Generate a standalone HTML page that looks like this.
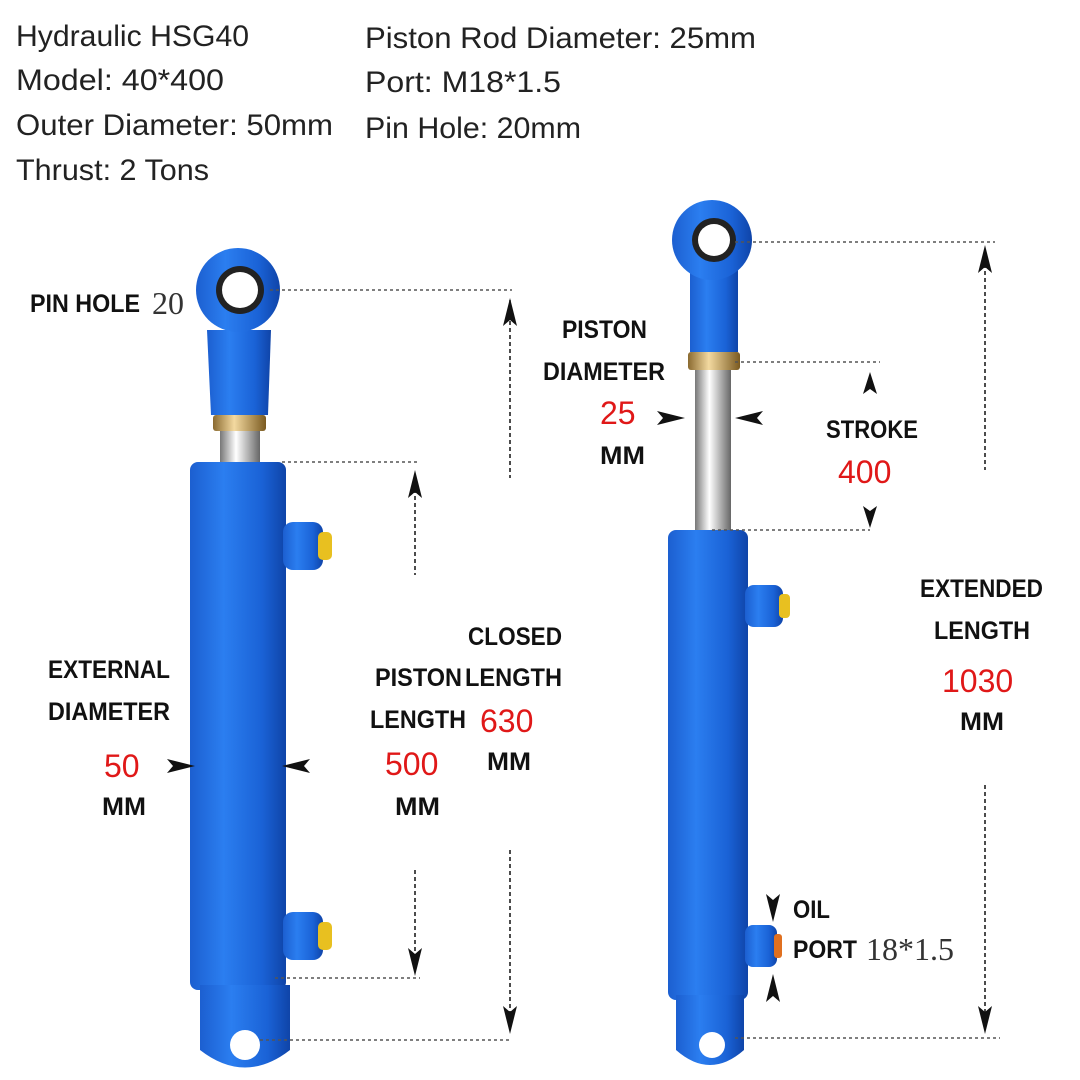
<!DOCTYPE html>
<html><head><meta charset="utf-8"><style>
body{margin:0;background:#fff;}
svg{display:block}
.t{font-family:"Liberation Sans",sans-serif;font-size:30px;fill:#222;font-weight:300}
.b{font-family:"Liberation Sans Narrow","Liberation Sans",sans-serif;font-weight:bold;font-size:25px;fill:#111}
.r{font-family:"Liberation Sans",sans-serif;font-size:32px;fill:#e01818}
.g{font-family:"Liberation Serif",serif;font-size:32px;fill:#333}
.d{stroke:#555;stroke-width:1.5;stroke-dasharray:3 3;fill:none}
.a{stroke:#111;stroke-width:1.5;stroke-dasharray:4 3;fill:none}
</style></head><body>
<svg width="1080" height="1080" viewBox="0 0 1080 1080">
<defs>
<linearGradient id="bl" x1="0" x2="1"><stop offset="0" stop-color="#1c5fd0"/><stop offset=".35" stop-color="#2b7ef0"/><stop offset=".75" stop-color="#1a62d6"/><stop offset="1" stop-color="#0f44a8"/></linearGradient>
<linearGradient id="ch" x1="0" x2="1"><stop offset="0" stop-color="#777"/><stop offset=".4" stop-color="#fff"/><stop offset="1" stop-color="#666"/></linearGradient>
<linearGradient id="br" x1="0" x2="1"><stop offset="0" stop-color="#8a6a30"/><stop offset=".4" stop-color="#f3d9a0"/><stop offset="1" stop-color="#7a5a20"/></linearGradient>
</defs>
<text class="t" x="16" y="46" textLength="233" lengthAdjust="spacingAndGlyphs">Hydraulic HSG40</text>
<text class="t" x="16" y="90" textLength="208" lengthAdjust="spacingAndGlyphs">Model: 40*400</text>
<text class="t" x="16" y="135" textLength="317" lengthAdjust="spacingAndGlyphs">Outer Diameter: 50mm</text>
<text class="t" x="16" y="180" textLength="193" lengthAdjust="spacingAndGlyphs">Thrust: 2 Tons</text>
<text class="t" x="365" y="48" textLength="391" lengthAdjust="spacingAndGlyphs">Piston Rod Diameter: 25mm</text>
<text class="t" x="365" y="92" textLength="196" lengthAdjust="spacingAndGlyphs">Port: M18*1.5</text>
<text class="t" x="365" y="138" textLength="216" lengthAdjust="spacingAndGlyphs">Pin Hole: 20mm</text>

<!-- left cylinder -->
<rect x="220" y="428" width="40" height="40" fill="url(#ch)"/>
<rect x="213" y="415" width="53" height="16" rx="3" fill="url(#br)"/>
<path d="M207 330 L271 330 L268 415 L211 415 Z" fill="url(#bl)"/>
<circle cx="238" cy="290" r="42" fill="url(#bl)"/>
<circle cx="240" cy="290" r="24" fill="#222"/>
<circle cx="240" cy="290" r="18" fill="#fff"/>
<rect x="190" y="462" width="96" height="528" rx="8" fill="url(#bl)"/>
<path d="M200 985 L290 985 L290 1050 Q245 1085 200 1050 Z" fill="url(#bl)"/>
<circle cx="245" cy="1045" r="15" fill="#fff"/>
<rect x="283" y="522" width="40" height="48" rx="10" fill="url(#bl)"/>
<rect x="318" y="532" width="14" height="28" rx="5" fill="#e8c020"/>
<rect x="283" y="912" width="40" height="48" rx="10" fill="url(#bl)"/>
<rect x="318" y="922" width="14" height="28" rx="5" fill="#e8c020"/>

<!-- right cylinder -->
<rect x="695" y="368" width="36" height="165" fill="url(#ch)"/>
<rect x="688" y="352" width="52" height="18" rx="3" fill="url(#br)"/>
<path d="M690 262 L738 262 L738 352 L690 352 Z" fill="url(#bl)"/>
<circle cx="712" cy="240" r="40" fill="url(#bl)"/>
<circle cx="714" cy="240" r="22" fill="#222"/>
<circle cx="714" cy="240" r="16" fill="#fff"/>
<rect x="668" y="530" width="80" height="470" rx="8" fill="url(#bl)"/>
<path d="M676 995 L744 995 L744 1050 Q710 1080 676 1050 Z" fill="url(#bl)"/>
<circle cx="712" cy="1045" r="13" fill="#fff"/>
<rect x="745" y="585" width="38" height="42" rx="9" fill="url(#bl)"/>
<rect x="779" y="594" width="11" height="24" rx="4" fill="#e8c020"/>
<rect x="745" y="925" width="32" height="42" rx="8" fill="url(#bl)"/>
<rect x="774" y="934" width="8" height="24" rx="3" fill="#e07020"/>

<!-- dashed guides -->
<path class="d" d="M270 290H512M282 462H420M275 978H420M260 1040H512M735 242H995M735 362H880M712 530H870M735 1038H1000"/>
<path class="a" d="M510 300V478M510 850V1030M415 475V575M415 870V972M985 250V470M985 785V1030"/>
<g fill="#111">
<path d="M510 298l-7 28 7-6 7 6z M510 1034l-7-28 7 6 7-6z M415 470l-7 28 7-6 7 6z M415 976l-7-28 7 6 7-6z M985 245l-7 28 7-6 7 6z M985 1034l-7-28 7 6 7-6z"/>
<path d="M870 372l-7 22 7-5 7 5z M870 528l-7-22 7 5 7-5z"/>
<path d="M685 418l-28-7 6 7-6 7z M735 418l28-7-6 7 6 7z"/>
<path d="M195 766l-28-7 6 7-6 7z M282 766l28-7-6 7 6 7z"/>
<path d="M773 922l-7-28 7 6 7-6z M773 974l-7 28 7-6 7 6z"/>
</g>

<g lengthAdjust="spacingAndGlyphs">
<text class="b" x="30" y="312" textLength="110" lengthAdjust="spacingAndGlyphs">PIN HOLE</text><text class="g" x="152" y="314">20</text>
<text class="b" x="48" y="678" textLength="122" lengthAdjust="spacingAndGlyphs">EXTERNAL</text><text class="b" x="48" y="720" textLength="122" lengthAdjust="spacingAndGlyphs">DIAMETER</text>
<text class="r" x="104" y="777">50</text><text class="b" x="102" y="815" textLength="44" lengthAdjust="spacingAndGlyphs">MM</text>
<text class="b" x="375" y="686" textLength="87" lengthAdjust="spacingAndGlyphs">PISTON</text><text class="b" x="370" y="728" textLength="96" lengthAdjust="spacingAndGlyphs">LENGTH</text>
<text class="r" x="385" y="775">500</text><text class="b" x="395" y="815" textLength="45" lengthAdjust="spacingAndGlyphs">MM</text>
<text class="b" x="468" y="645" textLength="94" lengthAdjust="spacingAndGlyphs">CLOSED</text><text class="b" x="465" y="686" textLength="97" lengthAdjust="spacingAndGlyphs">LENGTH</text>
<text class="r" x="480" y="732">630</text><text class="b" x="487" y="770" textLength="44" lengthAdjust="spacingAndGlyphs">MM</text>
<text class="b" x="562" y="338" textLength="85" lengthAdjust="spacingAndGlyphs">PISTON</text><text class="b" x="543" y="380" textLength="122" lengthAdjust="spacingAndGlyphs">DIAMETER</text>
<text class="r" x="600" y="424">25</text><text class="b" x="600" y="464" textLength="45" lengthAdjust="spacingAndGlyphs">MM</text>
<text class="b" x="826" y="438" textLength="92" lengthAdjust="spacingAndGlyphs">STROKE</text><text class="r" x="838" y="483">400</text>
<text class="b" x="920" y="597" textLength="123" lengthAdjust="spacingAndGlyphs">EXTENDED</text><text class="b" x="934" y="639" textLength="96" lengthAdjust="spacingAndGlyphs">LENGTH</text>
<text class="r" x="942" y="692">1030</text><text class="b" x="960" y="730" textLength="44" lengthAdjust="spacingAndGlyphs">MM</text>
<text class="b" x="793" y="918" textLength="37" lengthAdjust="spacingAndGlyphs">OIL</text><text class="b" x="793" y="958" textLength="64" lengthAdjust="spacingAndGlyphs">PORT</text><text class="g" x="866" y="960">18*1.5</text>
</g>
</svg>
</body></html>
